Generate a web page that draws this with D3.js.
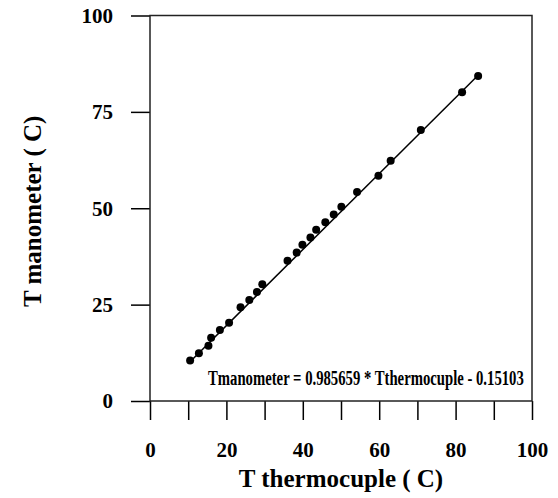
<!DOCTYPE html>
<html>
<head>
<meta charset="utf-8">
<script src="https://cdn.jsdelivr.net/npm/d3@7"></script>
<style>
  body { margin: 0; background: #fff; }
  svg text { font-family: "Liberation Serif", "Times New Roman", serif; font-weight: bold; fill: #000; }
</style>
</head>
<body>
<div id="chart-area"></div>
<script>
// measured points
var thermo = [10.5, 12.8, 15.3, 16.0, 18.3, 20.7, 23.7, 26.0, 28.0, 29.4, 36.0, 38.4,
  39.9, 42.0, 43.5, 45.9, 48.1, 50.1, 54.2, 59.8, 63.0, 70.9, 81.7, 85.9];
var mano = [10.5, 12.4, 14.3, 16.4, 18.4, 20.3, 24.3, 26.2, 28.3, 30.3, 36.4, 38.5,
  40.5, 42.4, 44.4, 46.4, 48.4, 50.4, 54.2, 58.4, 62.3, 70.3, 80.1, 84.3];

// fit
var slope = 0.985659;
var intercept = -0.15103;

var xTicks = [0, 10, 20, 30, 40, 50, 60, 70, 80, 90, 100];
var yTicks = [0, 25, 50, 75, 100];

var margin = {left: 150, right: 26, top: 15.5, bottom: 97};
var width = 558 - margin.left - margin.right;
var height = 498 - margin.top - margin.bottom;

var svg = d3.select("#chart-area").append("svg")
    .attr("width", 558)
    .attr("height", 498);

var g = svg.append("g")
    .attr("transform", "translate(" + margin.left + ", " + margin.top + ")");

var x = d3.scaleLinear().domain([0, 100]).range([0, width]);
var y = d3.scaleLinear().domain([0, 100]).range([height, 0]);

// Y axis
var yAxisGroup = g.append("g")
  .call(d3.axisLeft(y).tickValues(yTicks).tickSize(19).tickSizeOuter(0).tickPadding(18));
yAxisGroup.select(".domain").remove();
yAxisGroup.selectAll("line").attr("stroke", "#000").attr("stroke-width", 1.5);
yAxisGroup.selectAll("text")
  .attr("font-size", "21px")
  .attr("dy", "0.33em");

// X axis
var xAxisGroup = g.append("g")
  .attr("transform", "translate(0," + height + ")")
  .call(d3.axisBottom(x).tickValues(xTicks).tickSize(19).tickSizeOuter(0)
    .tickFormat(d => d % 20 === 0 ? d : ""));
xAxisGroup.select(".domain").remove();
xAxisGroup.selectAll("line").attr("stroke", "#000").attr("stroke-width", 1.5);
xAxisGroup.selectAll("text")
  .attr("font-size", "21px")
  .attr("y", 56)
  .attr("dy", 0);

// frame
g.append("rect")
  .attr("x", 0)
  .attr("y", 0)
  .attr("width", width)
  .attr("height", height)
  .attr("fill", "none")
  .attr("stroke", "#222")
  .attr("stroke-width", 1.5);

// fit line
var x0 = d3.min(thermo), x1 = d3.max(thermo);
g.append("line")
  .attr("x1", x(x0))
  .attr("y1", y(slope * x0 + intercept))
  .attr("x2", x(x1))
  .attr("y2", y(slope * x1 + intercept))
  .attr("stroke", "#000")
  .attr("stroke-width", 1.5);

// points
g.selectAll("circle")
  .data(thermo.map((d, i) => ({t: d, m: mano[i]})))
  .enter()
  .append("circle")
    .attr("cx", d => x(d.t))
    .attr("cy", d => y(d.m))
    .attr("r", 4)
    .attr("fill", "#000");

// equation (squeezed horizontally like the original)
var eq = g.append("text")
  .attr("font-size", "22px")
  .text("Tmanometer = " + slope + " * Tthermocuple - " + Math.abs(intercept));
var eqW = eq.node().getComputedTextLength();
var sx = 316 / eqW;
eq.attr("transform", "translate(58," + (height - 16) + ") scale(" + sx + ",1)");

// X label
g.append("text")
  .attr("x", width / 2)
  .attr("y", height + 86)
  .attr("font-size", "25px")
  .attr("text-anchor", "middle")
  .text("T thermocuple ( C)");

// Y label
g.append("text")
  .attr("transform", "rotate(-90)")
  .attr("x", -(height / 2) - 3)
  .attr("y", -109)
  .attr("font-size", "25px")
  .attr("text-anchor", "middle")
  .text("T manometer ( C)");
</script>
</body>
</html>
